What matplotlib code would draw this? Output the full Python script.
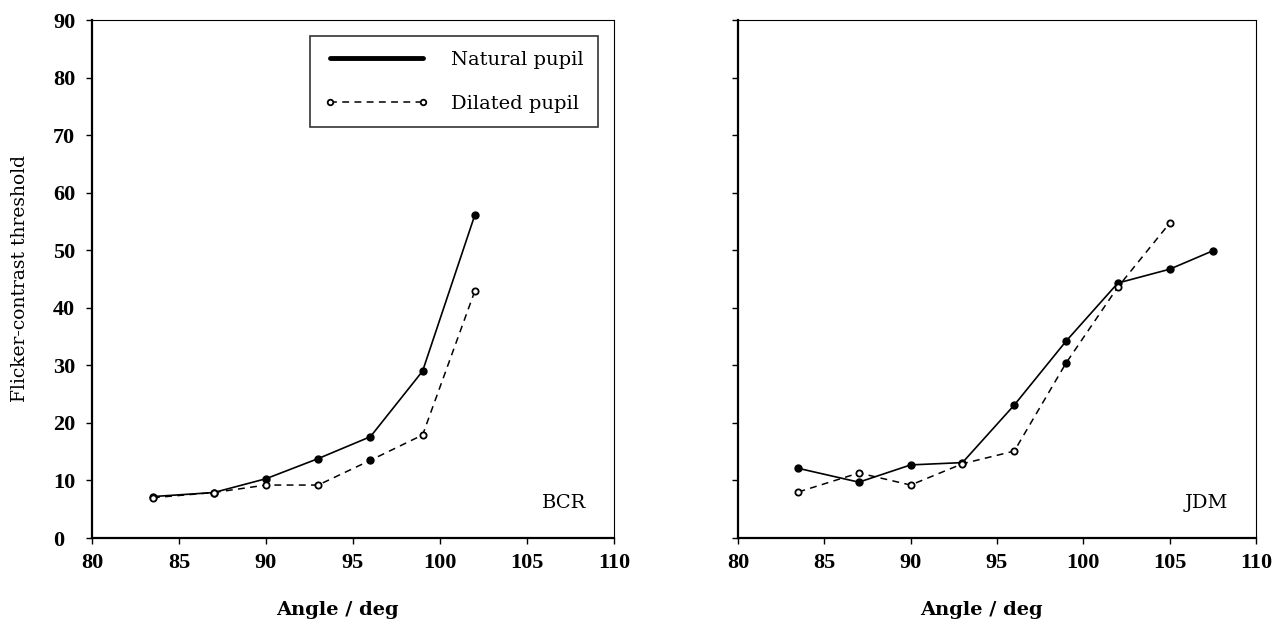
import matplotlib
matplotlib.use("Agg")
import matplotlib.pyplot as plt
from matplotlib.lines import Line2D

# ---------------- data ----------------
bcr_angle_nat = [83.5, 87, 90, 93, 96, 99, 102]
bcr_nat = [7.2, 7.9, 10.3, 13.8, 17.6, 29.0, 56.1]
bcr_angle_dil = [83.5, 87, 90, 93, 96, 99, 102]
bcr_dil = [7.0, 7.9, 9.2, 9.2, 13.5, 17.9, 42.9]
bcr_dil_filled = [False, False, False, False, True, False, False]

jdm_angle_nat = [83.5, 87, 90, 93, 96, 99, 102, 105, 107.5]
jdm_nat = [12.1, 9.7, 12.7, 13.1, 23.1, 34.2, 44.3, 46.7, 49.9]
jdm_angle_dil = [83.5, 87, 90, 93, 96, 99, 102, 105]
jdm_dil = [8.0, 11.3, 9.2, 12.9, 15.1, 30.4, 43.6, 54.7]
jdm_dil_filled = [False, False, False, False, False, True, False, False]

panels = ["BCR", "JDM"]
x_ticks = [80, 85, 90, 95, 100, 105, 110]
y_ticks = [0, 10, 20, 30, 40, 50, 60, 70, 80, 90]
series_labels = ["Natural pupil", "Dilated pupil"]
xlabel_text = "Angle / deg"
ylabel_text = "Flicker-contrast threshold"

TEXT_FONT = "DejaVu Serif"
TICK_FONT = "Liberation Serif"

fig = plt.figure(figsize=(12.72, 6.2), dpi=100)
W, H = 1272, 620
ax1 = fig.add_axes([92 / W, 1 - 538 / H, (614 - 92) / W, (538 - 20) / H])
ax2 = fig.add_axes([738 / W, 1 - 538 / H, (1256 - 738) / W, (538 - 20) / H])

data = [
    (ax1, bcr_angle_nat, bcr_nat, bcr_angle_dil, bcr_dil, bcr_dil_filled, panels[0]),
    (ax2, jdm_angle_nat, jdm_nat, jdm_angle_dil, jdm_dil, jdm_dil_filled, panels[1]),
]

for ax, xn, yn, xd, yd, fd, name in data:
    # dilated (dashed, open markers)
    ax.plot(xd, yd, color="black", lw=1.1, ls=(0, (4.5, 3.5)), zorder=2)
    xo = [x for x, f in zip(xd, fd) if not f]
    yo = [y for y, f in zip(yd, fd) if not f]
    xf = [x for x, f in zip(xd, fd) if f]
    yf = [y for y, f in zip(yd, fd) if f]
    ax.plot(xo, yo, ls="none", marker="o", ms=4.5, mfc="white", mec="black", mew=1.3, zorder=4)
    ax.plot(xf, yf, ls="none", marker="o", ms=5, mfc="black", mec="black", zorder=4)
    # natural (solid, filled markers)
    ax.plot(xn, yn, color="black", lw=1.2, marker="o", ms=5, mfc="black", mec="black", zorder=3)

    ax.set_xlim(80, 110)
    ax.set_ylim(0, 90)
    ax.set_xticks(x_ticks)
    ax.set_yticks(y_ticks)
    ax.tick_params(direction="out", length=4, width=1, colors="black")
    for lab in ax.get_xticklabels():
        lab.set_fontfamily(TICK_FONT)
        lab.set_fontweight("bold")
        lab.set_fontsize(16)
    ax.tick_params(axis="x", pad=7)
    for s in ["left", "bottom"]:
        ax.spines[s].set_linewidth(1.6)
    for s in ["top", "right"]:
        ax.spines[s].set_linewidth(0.8)

    ax.set_xlabel(xlabel_text, family=TEXT_FONT, fontweight="bold", fontsize=14)
    ax.xaxis.set_label_coords(0.47, -0.139)
    ax.xaxis.label.set_va("center")

    ax.text(108.4, 6.1, name, family=TEXT_FONT, fontsize=14, ha="right", va="center")

# left panel y tick labels: left aligned
ax1.tick_params(axis="y", pad=24)
for lab in ax1.get_yticklabels():
    lab.set_fontfamily(TICK_FONT)
    lab.set_fontweight("bold")
    lab.set_fontsize(16)
    lab.set_horizontalalignment("left")
ax2.set_yticklabels([])

ax1.set_ylabel(ylabel_text, family=TEXT_FONT, fontsize=13.5)
ax1.yaxis.set_label_coords(-0.138, 0.5)
ax1.yaxis.label.set_va("center")

handles = [
    Line2D([], [], color="black", lw=3.5, solid_capstyle="round"),
    Line2D([], [], color="black", lw=1.1, ls=(0, (4.5, 3.5)), marker="o", ms=4,
           mfc="white", mec="black", mew=1.3),
]
leg = ax1.legend(handles, series_labels, loc="upper right", bbox_to_anchor=(0.969, 0.969),
                 prop={"family": TEXT_FONT, "size": 14}, frameon=True, fancybox=False,
                 handlelength=5.4, handletextpad=1.1, borderpad=0.75, labelspacing=1.35,
                 numpoints=2, borderaxespad=0)
leg.get_frame().set_edgecolor("black")
leg.get_frame().set_linewidth(1.2)

fig.savefig("out.png", dpi=100)
